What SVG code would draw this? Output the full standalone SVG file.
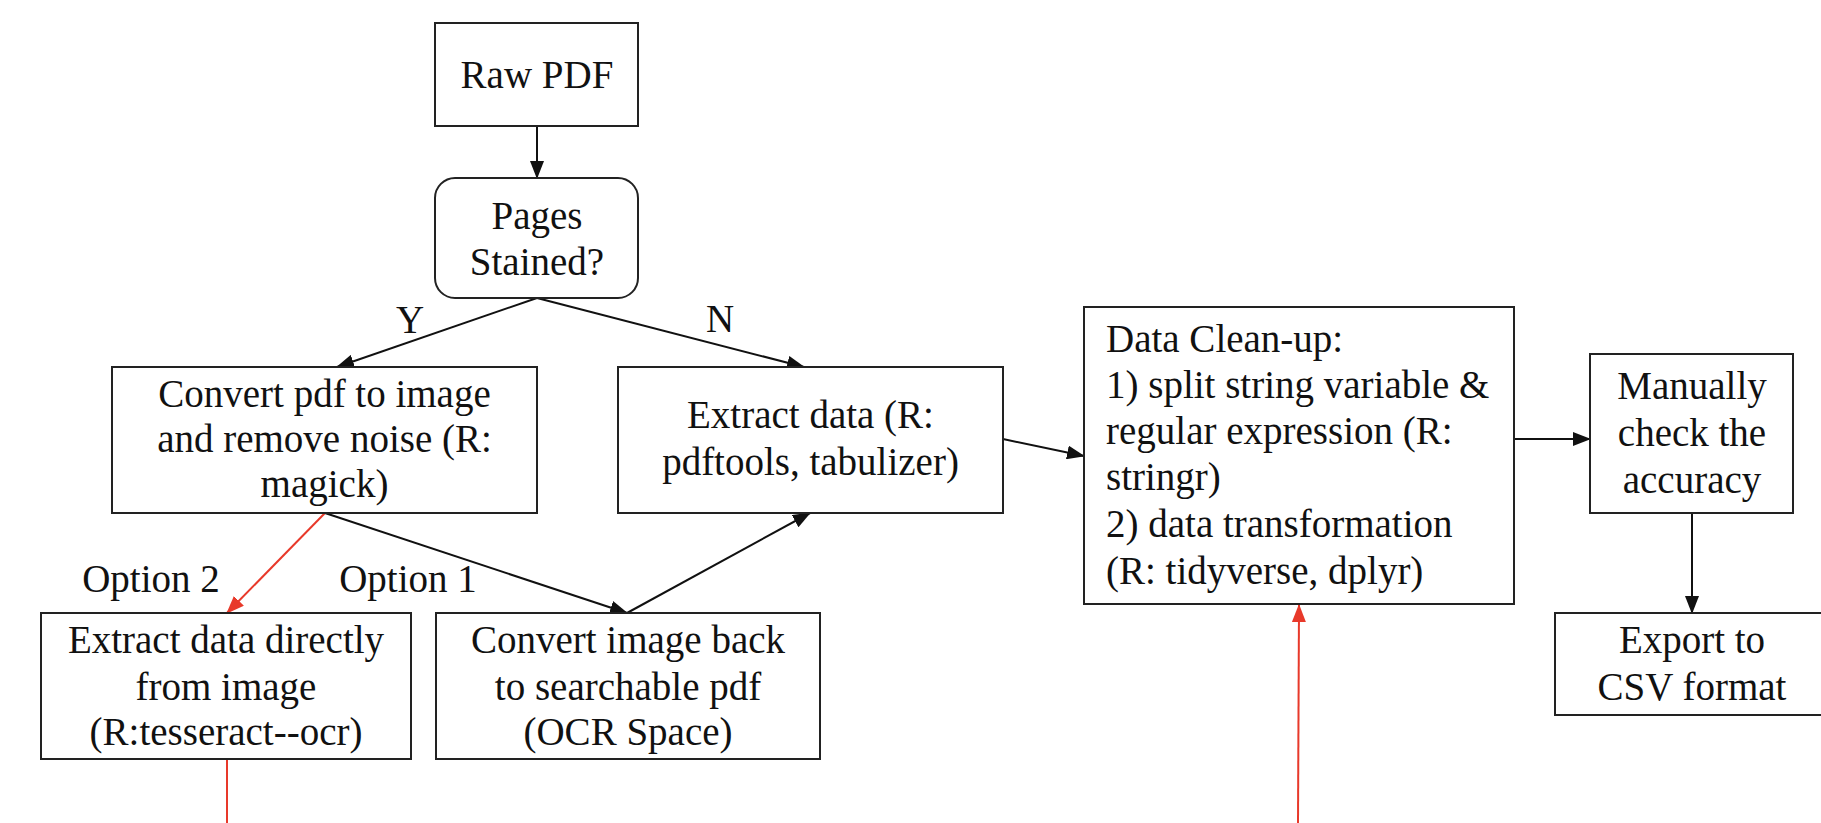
<svg xmlns="http://www.w3.org/2000/svg" width="1821" height="823" viewBox="0 0 1821 823">
  <defs>
    <marker id="ah" viewBox="0 0 18 14" refX="17" refY="7" markerWidth="18" markerHeight="14" markerUnits="userSpaceOnUse" orient="auto">
      <path d="M0,0 L18,7 L0,14 Z" fill="#111"/>
    </marker>
    <marker id="ahr" viewBox="0 0 18 14" refX="17" refY="7" markerWidth="18" markerHeight="14" markerUnits="userSpaceOnUse" orient="auto">
      <path d="M0,0 L18,7 L0,14 Z" fill="#e8392a"/>
    </marker>
  </defs>
  <style>
    .box { fill: #fff; stroke: #222; stroke-width: 2; }
    .t { font-family: "Liberation Serif", "Times New Roman", serif; font-size: 39px; fill: #111; text-anchor: middle; }
    .tl { text-anchor: start; }
    .e { fill: none; stroke: #111; stroke-width: 2; }
    .r { fill: none; stroke: #e8392a; stroke-width: 2; }
  </style>
  <rect width="1821" height="823" fill="#fff"/>

  <g id="connectors">
    <line class="e" x1="537" y1="126" x2="537" y2="178" marker-end="url(#ah)"/>
    <line class="e" x1="537" y1="298" x2="337" y2="367" marker-end="url(#ah)"/>
    <line class="e" x1="537" y1="298" x2="804" y2="367" marker-end="url(#ah)"/>
    <line class="e" x1="325" y1="513" x2="627" y2="613" marker-end="url(#ah)"/>
    <line class="r" x1="325" y1="513" x2="227" y2="613" marker-end="url(#ahr)"/>
    <line class="e" x1="627" y1="613" x2="810" y2="513" marker-end="url(#ah)"/>
    <line class="e" x1="1003" y1="439" x2="1084" y2="456" marker-end="url(#ah)"/>
    <line class="e" x1="1508" y1="439" x2="1590" y2="439" marker-end="url(#ah)"/>
    <line class="e" x1="1692" y1="513" x2="1692" y2="613" marker-end="url(#ah)"/>
    <line class="r" x1="227" y1="759" x2="227" y2="823"/>
    <line class="r" x1="1298" y1="823" x2="1299" y2="605" marker-end="url(#ahr)"/>
    <text class="t" x="410" y="333">Y</text>
    <text class="t" x="720" y="332">N</text>
    <text class="t" x="151" y="592">Option 2</text>
    <text class="t" x="408" y="592">Option 1</text>
  </g>

  <g id="raw-pdf">
    <rect class="box" x="435" y="23" width="203" height="103"/>
    <text class="t" x="537" y="88">Raw PDF</text>
  </g>

  <g id="pages-stained">
    <rect class="box" x="435" y="178" width="203" height="120" rx="20" ry="20"/>
    <text class="t" x="537" y="229">Pages</text>
    <text class="t" x="537" y="275">Stained?</text>
  </g>

  <g id="convert-pdf">
    <rect class="box" x="112" y="367" width="425" height="146"/>
    <text class="t" x="324.5" y="407">Convert pdf to image</text>
    <text class="t" x="324.5" y="452">and remove noise (R:</text>
    <text class="t" x="324.5" y="497">magick)</text>
  </g>

  <g id="extract-data">
    <rect class="box" x="618" y="367" width="385" height="146"/>
    <text class="t" x="810.5" y="428">Extract data (R:</text>
    <text class="t" x="810.5" y="475">pdftools, tabulizer)</text>
  </g>

  <g id="extract-directly">
    <rect class="box" x="41" y="613" width="370" height="146"/>
    <text class="t" x="226" y="653">Extract data directly</text>
    <text class="t" x="226" y="700">from image</text>
    <text class="t" x="226" y="745">(R:tesseract--ocr)</text>
  </g>

  <g id="convert-back">
    <rect class="box" x="436" y="613" width="384" height="146"/>
    <text class="t" x="628" y="653">Convert image back</text>
    <text class="t" x="628" y="700">to searchable pdf</text>
    <text class="t" x="628" y="745">(OCR Space)</text>
  </g>

  <g id="data-cleanup">
    <rect class="box" x="1084" y="307" width="430" height="297"/>
    <text class="t tl" x="1106" y="352">Data Clean-up:</text>
    <text class="t tl" x="1106" y="398">1) split string variable &amp;</text>
    <text class="t tl" x="1106" y="444">regular expression (R:</text>
    <text class="t tl" x="1106" y="490">stringr)</text>
    <text class="t tl" x="1106" y="537">2) data transformation</text>
    <text class="t tl" x="1106" y="584">(R: tidyverse, dplyr)</text>
  </g>

  <g id="manually-check">
    <rect class="box" x="1590" y="354" width="203" height="159"/>
    <text class="t" x="1692" y="399">Manually</text>
    <text class="t" x="1692" y="446">check the</text>
    <text class="t" x="1692" y="493">accuracy</text>
  </g>

  <g id="export-csv">
    <rect class="box" x="1555" y="613" width="274" height="102"/>
    <text class="t" x="1692" y="653">Export to</text>
    <text class="t" x="1692" y="700">CSV format</text>
  </g>
</svg>
